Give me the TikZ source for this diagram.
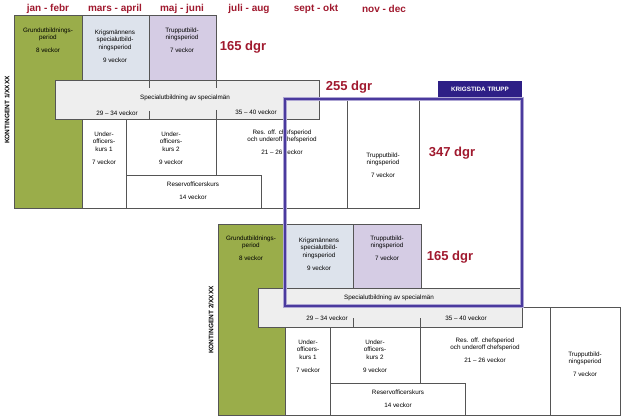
\documentclass[tikz,border=0pt]{standalone}
\usepackage{fontspec}
\setmainfont{Liberation Sans}
\definecolor{grn}{HTML}{9AAD4A}
\definecolor{lblue}{HTML}{DDE3EC}
\definecolor{lav}{HTML}{D5CCE4}
\definecolor{band}{HTML}{EEEEEE}
\definecolor{dred}{HTML}{A0192E}
\definecolor{navy}{HTML}{2E1F86}
\definecolor{bviol}{HTML}{4A3A9E}
\definecolor{ln}{HTML}{555555}
\begin{document}
\begin{tikzpicture}[x=1pt,y=-1pt,
  bx/.style={draw=ln,line width=0.8pt},
  tx/.style={font=\fontsize{6.3}{7.6}\selectfont,align=center,text=black},
  mon/.style={font=\bfseries\fontsize{10}{12}\selectfont,text=dred},
  dgr/.style={font=\bfseries\fontsize{13}{15}\selectfont,text=dred},
  kon/.style={font=\bfseries\fontsize{6.5}{8}\selectfont,rotate=90}]
\useasboundingbox (0,0) rectangle (630,420);
% months
\foreach \m/\x [count=\i] in {jan - febr/48,mars - april/115,maj - juni/182,juli - aug/249,sept - okt/316,nov - dec/384}
  \node[mon] (m\i) at (\x,9) {\m};
% ===== block 1 =====
\fill[white,bx] (216,99) rectangle (347,208);
\fill[white,bx] (347,99) rectangle (419,208);
\fill[grn,bx] (14,15) rectangle (82,208);
\fill[lblue,bx] (82,15) rectangle (149,80);
\fill[lav,bx] (149,15) rectangle (216,80);
\fill[white,bx] (82,119) rectangle (126,208);
\fill[white,bx] (126,119) rectangle (216,175);
\fill[white,bx] (126,175) rectangle (261,208);
\fill[band,bx] (55,80) rectangle (319,119);
\draw[bx] (149,80)--(149,88) (216,80)--(216,88) (149,111)--(149,119) (216,110)--(216,175);
\node[tx] (a1) at (48,40) {Grundutbildnings-\\period\\[5pt]8 veckor};
\node[tx] (a2) at (115,46) {Krigsmännens\\specialutbild-\\ningsperiod\\[5pt]9 veckor};
\node[tx] (a3) at (182,40) {Trupputbild-\\ningsperiod\\[5pt]7 veckor};
\node[tx] (a4) at (185,98) {Specialutbildning av specialmän};
\node[tx] (a5) at (117,113) {29 – 34 veckor};
\node[tx] (a6) at (256,112) {35 – 40 veckor};
\node[tx] (a7) at (104,148) {Under-\\officers-\\kurs 1\\[5pt]7 veckor};
\node[tx] (a8) at (171,148) {Under-\\officers-\\kurs 2\\[5pt]9 veckor};
\node[tx] (a9) at (193,191) {Reservofficerskurs\\[5pt]14 veckor};
\node[tx] (a10) at (282,142) {Res. off. chefsperiod\\och underoff chefsperiod\\[5pt]21 – 26 veckor};
\node[tx] (a11) at (383,165) {Trupputbild-\\ningsperiod\\[5pt]7 veckor};
\node[kon] (k1) at (7,110) {KONTINGENT 1/XXXX};
% ===== block 2 =====
\fill[white,bx] (420,307) rectangle (550,415);
\fill[white,bx] (550,307) rectangle (620,415);
\fill[grn,bx] (218,224) rectangle (285,415);
\fill[lblue,bx] (285,224) rectangle (353,288);
\fill[lav,bx] (353,224) rectangle (421,288);
\fill[white,bx] (285,327) rectangle (330,415);
\fill[white,bx] (330,327) rectangle (420,383);
\fill[white,bx] (330,383) rectangle (465,415);
\fill[band,bx] (258,288) rectangle (522,327);
\draw[bx] (353,318)--(353,327) (420,318)--(420,383);
\node[tx] (b1) at (251,248) {Grundutbildnings-\\period\\[5pt]8 veckor};
\node[tx] (b2) at (319,254) {Krigsmännens\\specialutbild-\\ningsperiod\\[5pt]9 veckor};
\node[tx] (b3) at (387,248) {Trupputbild-\\ningsperiod\\[5pt]7 veckor};
\node[tx] (b4) at (389,298) {Specialutbildning av specialmän};
\node[tx] (b5) at (327,318) {29 – 34 veckor};
\node[tx] (b6) at (466,318) {35 – 40 veckor};
\node[tx] (b7) at (308,356) {Under-\\officers-\\kurs 1\\[5pt]7 veckor};
\node[tx] (b8) at (375,356) {Under-\\officers-\\kurs 2\\[5pt]9 veckor};
\node[tx] (b9) at (398,399) {Reservofficerskurs\\[5pt]14 veckor};
\node[tx] (b10) at (485,350) {Res. off. chefsperiod\\och underoff chefsperiod\\[5pt]21 – 26 veckor};
\node[tx] (b11) at (585,364) {Trupputbild-\\ningsperiod\\[5pt]7 veckor};
\node[kon] (k2) at (211,320) {KONTINGENT 2/XXXX};
% ===== labels =====
\node[dgr] (d1) at (243,47) {165 dgr};
\node[dgr] (d2) at (349,87) {255 dgr};
\node[dgr] (d3) at (452,153) {347 dgr};
\node[dgr] (d4) at (450,257) {165 dgr};
% krigstida
\draw[bviol!45,line width=4.5pt] (285,99) rectangle (522,306);
\draw[bviol,line width=2.4pt] (285,99) rectangle (522,306);
\fill[navy] (438,81) rectangle (522,97);
\node[font=\bfseries\fontsize{6.3}{7}\selectfont,text=white] (kt) at (480,89) {KRIGSTIDA TRUPP};
\end{tikzpicture}
\end{document}
